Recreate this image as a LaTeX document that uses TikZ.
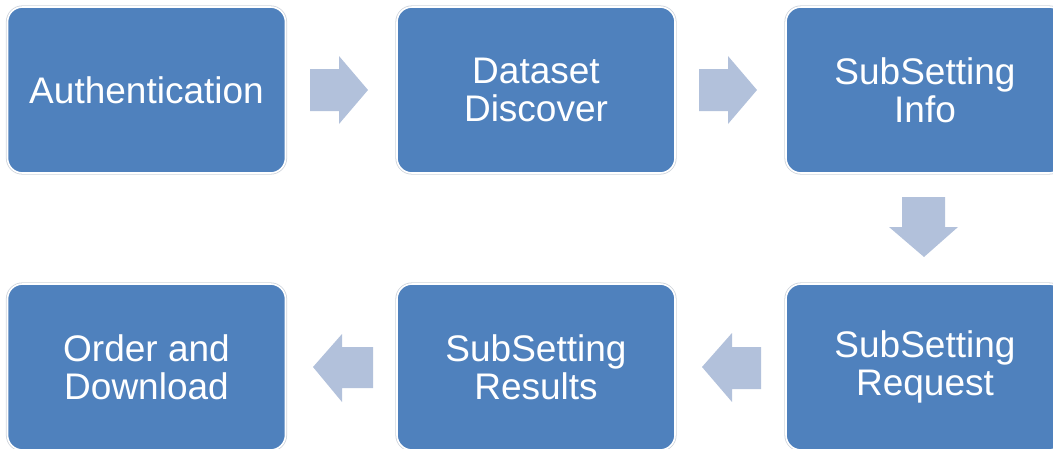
\documentclass[tikz,border=0pt]{standalone}
\usepackage{fontspec}
\setmainfont{Liberation Sans}
\definecolor{boxblue}{HTML}{4F81BD}
\definecolor{arrowblue}{HTML}{B2C1DB}
\definecolor{rimgray}{HTML}{D0D5DC}
\begin{document}
\begin{tikzpicture}[x=1pt,y=-1pt,
  stepbox/.style={rectangle, rounded corners=15pt, fill=boxblue, draw=white, line width=1.6pt,
    minimum width=278pt, minimum height=166pt, text=white, align=center,
    font=\fontsize{37}{38}\selectfont,
    preaction={draw=rimgray, line width=3.2pt}},
  blockarrow/.style={fill=arrowblue, draw=none}]
\useasboundingbox (0,0) rectangle (1053,448);
\node[stepbox] (auth) at (146.5,90) {Authentication};
\node[stepbox] (disc) at (536,90) {Dataset\\Discover};
\node[stepbox] (info) at (925,90) {SubSetting\\Info};
\node[stepbox] (req) at (925,367) {SubSetting\\Request};
\node[stepbox] (res) at (536,367) {SubSetting\\Results};
\node[stepbox] (ord) at (146.5,367) {Order and\\Download};
% right arrows
\fill[blockarrow] (310,69) -- (339,69) -- (339,56) -- (368,90) -- (339,124) -- (339,111) -- (310,111) -- cycle;
\fill[blockarrow] (699,69) -- (728,69) -- (728,56) -- (757,90) -- (728,124) -- (728,111) -- (699,111) -- cycle;
% down arrow
\fill[blockarrow] (902,197) -- (945,197) -- (945,227) -- (958,227) -- (924,257) -- (889,227) -- (902,227) -- cycle;
% left arrows
\fill[blockarrow] (761,347) -- (732,347) -- (732,333) -- (702,367) -- (732,402) -- (732,389) -- (761,389) -- cycle;
\fill[blockarrow] (373,347) -- (342,347) -- (342,334) -- (313,367) -- (342,402) -- (342,388) -- (373,388) -- cycle;
\end{tikzpicture}
\end{document}
